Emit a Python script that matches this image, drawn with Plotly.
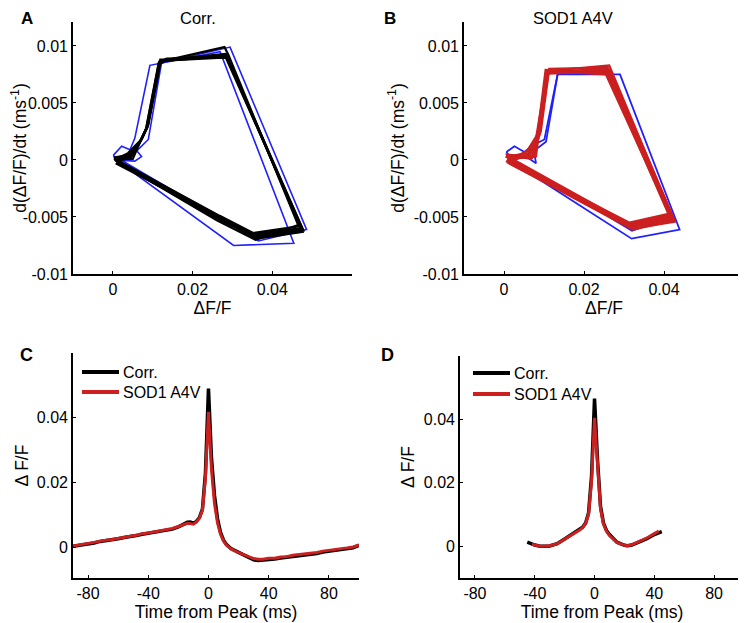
import plotly.graph_objects as go

# ---- A: phase plot, control (blue = two reference loops, black = bundle of loops)
a_blue_x = [
    [0.0001, 0.0022, 0.0043, 0.0055, 0.0093, 0.0122, 0.0269, 0.0454, 0.0303, 0.0020, 0.0001],
    [0.0010, 0.0055, 0.0072, 0.0060, 0.0089, 0.0122, 0.0294, 0.0486, 0.0365, 0.0030, 0.0010],
]
a_blue_y = [
    [0.0004, 0.0012, 0.0009, 0.0019, 0.0083, 0.0085, 0.0095, -0.0073, -0.0075, -0.0003, 0.0004],
    [0.0000, -0.0001, 0.0003, 0.0008, 0.0018, 0.0085, 0.0099, -0.0061, -0.0071, -0.0002, 0.0000],
]
a_black_x = [
    [0.0003, 0.0040, 0.0068, 0.0083, 0.0115, 0.0128, 0.0282, 0.0478, 0.0360, 0.0265, 0.0010],
    [0.0008, 0.0045, 0.0073, 0.0087, 0.0118, 0.0132, 0.0285, 0.0474, 0.0355, 0.0270, 0.0006],
    [0.0002, 0.0048, 0.0075, 0.0089, 0.0120, 0.0135, 0.0288, 0.0470, 0.0352, 0.0268, 0.0004],
    [0.0006, 0.0042, 0.0070, 0.0084, 0.0116, 0.0280, 0.0290, 0.0465, 0.0358, 0.0262, 0.0008],
    [0.0010, 0.0050, 0.0071, 0.0086, 0.0119, 0.0130, 0.0283, 0.0476, 0.0362, 0.0272, 0.0003],
    [0.0004, 0.0038, 0.0069, 0.0088, 0.0117, 0.0131, 0.0286, 0.0472, 0.0354, 0.0266, 0.0007],
    [0.0007, 0.0044, 0.0072, 0.0086, 0.0118, 0.0129, 0.0287, 0.0477, 0.0358, 0.0269, 0.0005],
]
a_black_y = [
    [0.0001, 0.0004, 0.0016, 0.0027, 0.0085, 0.0087, 0.0091, -0.0062, -0.0068, -0.0052, -0.0002],
    [-0.0001, 0.0002, 0.0019, 0.0030, 0.0087, 0.0088, 0.0092, -0.0060, -0.0066, -0.0050, 0.0000],
    [0.0002, 0.0005, 0.0020, 0.0031, 0.0086, 0.0089, 0.0090, -0.0058, -0.0064, -0.0049, 0.0001],
    [0.0000, 0.0003, 0.0017, 0.0028, 0.0086, 0.0099, 0.0092, -0.0057, -0.0070, -0.0053, -0.0001],
    [0.0001, 0.0001, 0.0018, 0.0028, 0.0088, 0.0088, 0.0093, -0.0063, -0.0069, -0.0051, 0.0001],
    [0.0000, 0.0006, 0.0017, 0.0030, 0.0084, 0.0087, 0.0091, -0.0060, -0.0065, -0.0050, -0.0003],
    [0.0002, 0.0002, 0.0018, 0.0029, 0.0086, 0.0087, 0.0090, -0.0061, -0.0067, -0.0051, 0.0000],
]

# ---- B: phase plot, SOD1 A4V (blue reference loops, red bundle)
b_blue_x = [
    [0.0006, 0.0026, 0.0051, 0.0072, 0.0101, 0.0130, 0.0134, 0.0290, 0.0439, 0.0319, 0.0030, 0.0006],
    [0.0010, 0.0060, 0.0080, 0.0075, 0.0105, 0.0134, 0.0257, 0.0418, 0.0320, 0.0040, 0.0010],
]
b_blue_y = [
    [0.0007, 0.0012, 0.0007, 0.0013, 0.0018, 0.0066, 0.0075, 0.0075, -0.0061, -0.0069, -0.0004, 0.0007],
    [0.0001, 0.0002, -0.0003, 0.0008, 0.0016, 0.0075, 0.0082, -0.0050, -0.0062, -0.0003, 0.0001],
]
b_red_x = [
    [0.0006, 0.0060, 0.0085, 0.0106, 0.0260, 0.0420, 0.0318, 0.0012],
    [0.0010, 0.0065, 0.0088, 0.0109, 0.0263, 0.0425, 0.0322, 0.0008],
    [0.0004, 0.0070, 0.0083, 0.0104, 0.0258, 0.0412, 0.0312, 0.0015],
    [0.0014, 0.0058, 0.0090, 0.0110, 0.0265, 0.0428, 0.0325, 0.0005],
    [0.0008, 0.0075, 0.0086, 0.0112, 0.0255, 0.0416, 0.0310, 0.0010],
    [0.0012, 0.0062, 0.0080, 0.0108, 0.0262, 0.0422, 0.0316, 0.0004],
    [0.0005, 0.0068, 0.0092, 0.0113, 0.0259, 0.0418, 0.0320, 0.0013],
    [0.0009, 0.0080, 0.0087, 0.0105, 0.0261, 0.0414, 0.0314, 0.0007],
]
b_red_y = [
    [0.0003, 0.0006, 0.0022, 0.0077, 0.0080, -0.0051, -0.0058, 0.0000],
    [0.0001, 0.0004, 0.0024, 0.0078, 0.0083, -0.0053, -0.0061, -0.0002],
    [0.0005, 0.0002, 0.0020, 0.0079, 0.0076, -0.0048, -0.0056, 0.0002],
    [0.0000, 0.0008, 0.0026, 0.0076, 0.0078, -0.0054, -0.0060, -0.0001],
    [0.0002, 0.0003, 0.0021, 0.0078, 0.0075, -0.0049, -0.0057, 0.0001],
    [-0.0002, 0.0005, 0.0019, 0.0077, 0.0079, -0.0052, -0.0059, 0.0003],
    [0.0004, 0.0001, 0.0025, 0.0080, 0.0081, -0.0050, -0.0058, -0.0003],
    [0.0001, 0.0003, 0.0023, 0.0076, 0.0077, -0.0047, -0.0055, 0.0000],
]

# ---- C: averaged transients, long window
c_t = [-90, -87, -84, -80, -76, -72, -68, -64, -60, -56, -52, -48, -44, -40, -36, -32, -28, -24,
       -20, -17, -14, -12, -10, -8, -6, -4, -2, 0, 2, 4, 6, 8, 10, 12, 15, 20, 25, 30, 33, 36,
       40, 44, 48, 52, 56, 60, 64, 68, 72, 76, 80, 84, 88, 92, 96, 100]
c_corr = [0.0003, 0.0005, 0.0008, 0.0011, 0.0013, 0.0018, 0.0020, 0.0023, 0.0026, 0.0030, 0.0032,
          0.0036, 0.0040, 0.0043, 0.0045, 0.0049, 0.0053, 0.0056, 0.0063, 0.0071, 0.0077, 0.0078,
          0.0074, 0.0080, 0.0092, 0.0118, 0.0230, 0.0490, 0.0275, 0.0160, 0.0088, 0.0046, 0.0022,
          0.0008, -0.0004, -0.0016, -0.0029, -0.0039, -0.0041, -0.0040, -0.0038, -0.0036, -0.0033,
          -0.0031, -0.0028, -0.0026, -0.0024, -0.0021, -0.0019, -0.0015, -0.0012, -0.0009, -0.0007,
          -0.0004, -0.0002, 0.0006]
c_sod1 = [0.0004, 0.0007, 0.0009, 0.0012, 0.0015, 0.0019, 0.0022, 0.0024, 0.0028, 0.0031, 0.0034,
          0.0037, 0.0042, 0.0044, 0.0047, 0.0050, 0.0054, 0.0058, 0.0064, 0.0070, 0.0074, 0.0073,
          0.0071, 0.0078, 0.0090, 0.0115, 0.0215, 0.0418, 0.0240, 0.0135, 0.0075, 0.0040, 0.0019,
          0.0006, -0.0005, -0.0017, -0.0027, -0.0035, -0.0037, -0.0037, -0.0034, -0.0034, -0.0030,
          -0.0029, -0.0025, -0.0023, -0.0021, -0.0018, -0.0016, -0.0012, -0.0010, -0.0006, -0.0005,
          -0.0002, 0.0001, 0.0007]

# ---- D: averaged transients, short window
d_t = [-45, -42, -40, -37, -35, -30, -25, -20, -15, -10, -8, -6, -4, -2, 0, 2, 4, 6, 8, 10, 15,
       20, 22, 25, 30, 35, 40, 43, 45]
d_corr = [0.0013, 0.0007, 0.0004, 0.0001, 0.0000, 0.0001, 0.0008, 0.0023, 0.0039, 0.0052, 0.0060,
          0.0073, 0.0105, 0.0220, 0.0466, 0.0272, 0.0126, 0.0073, 0.0050, 0.0037, 0.0013, 0.0003,
          0.0002, 0.0004, 0.0014, 0.0024, 0.0037, 0.0043, 0.0046]
d_sod1 = [None, 0.0006, 0.0003, 0.0001, 0.0000, 0.0002, 0.0008, 0.0022, 0.0038, 0.0051, 0.0059,
          0.0072, 0.0100, 0.0205, 0.0405, 0.0245, 0.0118, 0.0070, 0.0047, 0.0034, 0.0012, 0.0003,
          0.0002, 0.0005, 0.0015, 0.0026, 0.0040, 0.0048, None]

phase_x_ticks = [0, 0.02, 0.04]
phase_y_ticks = [-0.01, -0.005, 0, 0.005, 0.01]
time_ticks = [-80, -40, 0, 40, 80]
dff_ticks = [0, 0.02, 0.04]
series_names = ["Corr.", "SOD1 A4V"]

BLUE = "#1f1fff"
RED = "#cc1f1f"
FONT = "Liberation Sans"

fig = go.Figure()

for xs, ys in zip(a_blue_x, a_blue_y):
    fig.add_trace(go.Scatter(x=xs, y=ys, mode="lines", line=dict(color=BLUE, width=1.6), xaxis="x", yaxis="y"))
for xs, ys in zip(a_black_x, a_black_y):
    fig.add_trace(go.Scatter(x=xs, y=ys, mode="lines", line=dict(color="black", width=2.2), xaxis="x", yaxis="y"))
for xs, ys in zip(b_blue_x, b_blue_y):
    fig.add_trace(go.Scatter(x=xs, y=ys, mode="lines", line=dict(color=BLUE, width=1.8), xaxis="x2", yaxis="y2"))
for xs, ys in zip(b_red_x, b_red_y):
    fig.add_trace(go.Scatter(x=xs, y=ys, mode="lines", line=dict(color=RED, width=2.2), xaxis="x2", yaxis="y2"))

fig.add_trace(go.Scatter(x=c_t, y=c_corr, mode="lines", name=series_names[0], line=dict(color="black", width=3.5), xaxis="x3", yaxis="y3"))
fig.add_trace(go.Scatter(x=c_t, y=c_sod1, mode="lines", name=series_names[1], line=dict(color=RED, width=3), xaxis="x3", yaxis="y3"))
fig.add_trace(go.Scatter(x=d_t, y=d_corr, mode="lines", name=series_names[0], line=dict(color="black", width=3.5), xaxis="x4", yaxis="y4"))
fig.add_trace(go.Scatter(x=d_t, y=d_sod1, mode="lines", name=series_names[1], line=dict(color=RED, width=3), xaxis="x4", yaxis="y4"))

# the page body has an 8px margin, so the figure is laid out from (8, 8)
OFF = 8
W, H = 746 - OFF, 623 - OFF
def px(x): return (x - OFF) / W
def py(y): return 1 - (y - OFF) / H

def lbl(v): return ["{:g}".format(t) for t in v]

ax = dict(showline=True, linecolor="black", linewidth=1.6, ticks="inside", ticklen=3, tickwidth=1.2,
          tickcolor="black", showgrid=False, zeroline=False, mirror=False, automargin=False,
          tickfont=dict(size=16, color="black"), title_font=dict(size=17.5, color="black"))

fig.update_layout(
    width=W, height=H, margin=dict(l=0, r=0, t=0, b=0, autoexpand=False),
    paper_bgcolor="white", plot_bgcolor="white", showlegend=False,
    font=dict(family=FONT, color="black"),
    xaxis=dict(ax, domain=[px(73), px(352)], range=[-0.01, 0.06], tickvals=phase_x_ticks, ticktext=lbl(phase_x_ticks), anchor="y", title=dict(text="ΔF/F", standoff=1)),
    yaxis=dict(ax, domain=[py(274), py(22)], range=[-0.01, 0.0121], tickvals=phase_y_ticks, ticktext=lbl(phase_y_ticks), anchor="x", title=dict(text="d(ΔF/F)/dt (ms<sup>-1</sup>)", standoff=5)),
    xaxis2=dict(ax, domain=[px(464), px(744)], range=[-0.01, 0.06], tickvals=phase_x_ticks, ticktext=lbl(phase_x_ticks), anchor="y2", title=dict(text="ΔF/F", standoff=1)),
    yaxis2=dict(ax, domain=[py(274), py(22)], range=[-0.01, 0.0121], tickvals=phase_y_ticks, ticktext=lbl(phase_y_ticks), anchor="x2", title=dict(text="d(ΔF/F)/dt (ms<sup>-1</sup>)", standoff=5)),
    xaxis3=dict(ax, domain=[px(73), px(359)], range=[-90, 100], tickvals=time_ticks, ticktext=lbl(time_ticks), anchor="y3", title=dict(text="Time from Peak (ms)", standoff=0)),
    yaxis3=dict(ax, domain=[py(578), py(353)], range=[-0.0095, 0.06], tickvals=dff_ticks, ticktext=lbl(dff_ticks), anchor="x3", title=dict(text="Δ F/F", standoff=4)),
    xaxis4=dict(ax, domain=[px(460), px(744)], range=[-90, 100], tickvals=time_ticks, ticktext=lbl(time_ticks), anchor="y4", title=dict(text="Time from Peak (ms)", standoff=0)),
    yaxis4=dict(ax, domain=[py(578), py(356)], range=[-0.01, 0.06], tickvals=dff_ticks, ticktext=lbl(dff_ticks), anchor="x4", title=dict(text="Δ F/F", standoff=5)),
)

# panel titles and letters at the top edge hang from the top of the figure
for text, x, size in [("Corr.", 198, 16.5), ("SOD1 A4V", 573, 16.5), ("<b>A</b>", 27, 17), ("<b>B</b>", 390, 17)]:
    fig.add_annotation(xref="paper", yref="paper", showarrow=False, xanchor="center", yanchor="top",
                       x=px(x), y=1, borderpad=0, text=text, font=dict(size=size))
for text, x in [("<b>C</b>", 26), ("<b>D</b>", 387)]:
    fig.add_annotation(xref="paper", yref="paper", showarrow=False, xanchor="center", yanchor="middle",
                       x=px(x), y=py(355), text=text, font=dict(size=18))

# legends for C and D: swatch line + label
for x0, x1, rows in [(82, 119, (372, 392)), (473, 510, (373, 394))]:
    for name, color, yy in zip(series_names, ["black", RED], rows):
        fig.add_shape(type="line", xref="paper", yref="paper", x0=px(x0), x1=px(x1), y0=py(yy), y1=py(yy),
                      line=dict(color=color, width=4))
        fig.add_annotation(xref="paper", yref="paper", showarrow=False, xanchor="left", yanchor="middle",
                           x=px(x1 + 2), y=py(yy), text=name, font=dict(size=16))

fig.write_html("out.html")
